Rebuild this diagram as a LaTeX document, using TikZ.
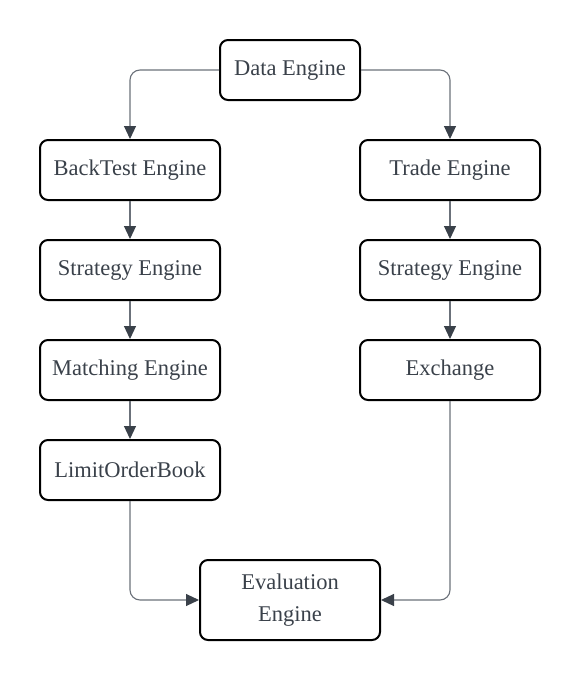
\documentclass[tikz,border=0pt]{standalone}
\usepackage{fontspec}
\setmainfont{Liberation Serif}
\usetikzlibrary{arrows.meta}
\definecolor{txt}{HTML}{3A414A}
\definecolor{ln}{HTML}{6B717A}
\begin{document}
\begin{tikzpicture}[x=1pt,y=-1pt,
  box/.style={draw=black,line width=2pt,rounded corners=8pt,minimum width=180pt,minimum height=60pt,
    text=txt,font=\fontsize{22.5}{32}\selectfont,align=center,inner sep=0pt},
  conn/.style={draw=ln,line width=1.1pt,rounded corners=10pt,
    -{Triangle[length=13pt,width=12pt,fill=txt,color=txt]}}]
\useasboundingbox (0,0) rectangle (580,680);
\node[box,minimum width=140pt] (data) at (290,70) {Data Engine};
\node[box] (bt) at (130,170) {BackTest Engine};
\node[box] (sl) at (130,270) {Strategy Engine};
\node[box] (me) at (130,370) {Matching Engine};
\node[box] (lob) at (130,470) {LimitOrderBook};
\node[box] (te) at (450,170) {Trade Engine};
\node[box] (sr) at (450,270) {Strategy Engine};
\node[box] (ex) at (450,370) {Exchange};
\node[box,minimum height=80pt] (ev) at (290,600) {Evaluation\\Engine};
\draw[conn] (data.west) -| (bt.north);
\draw[conn] (data.east) -| (te.north);
\draw[conn] (bt) -- (sl);
\draw[conn] (sl) -- (me);
\draw[conn] (me) -- (lob);
\draw[conn] (te) -- (sr);
\draw[conn] (sr) -- (ex);
\draw[conn] (lob.south) |- (ev.west);
\draw[conn] (ex.south) |- (ev.east);
\end{tikzpicture}
\end{document}
